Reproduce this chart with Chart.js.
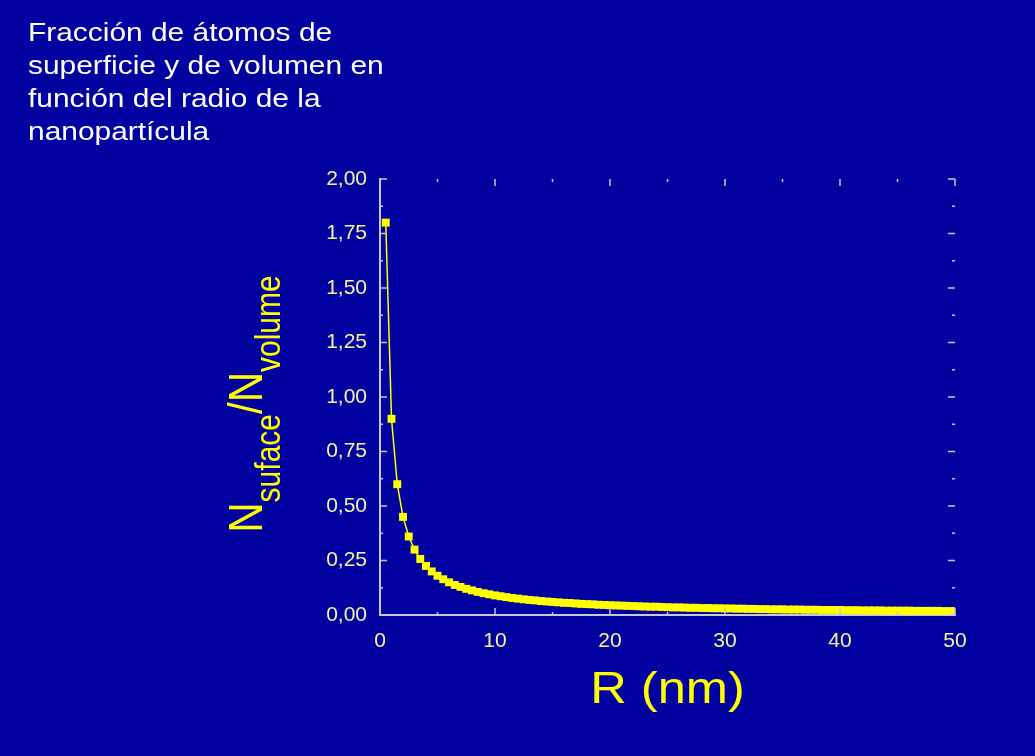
<!DOCTYPE html>
<html>
<head>
<meta charset="utf-8">
<script src="https://cdn.jsdelivr.net/npm/chart.js@4/dist/chart.umd.min.js"></script>
<style>
  body { margin: 0; background: #0202a0; }
  .slide { position: relative; width: 1035px; height: 756px; background: #0202a0; overflow: hidden; }
  .titulo {
    position: absolute; left: 28px; top: 16px;
    font-family: 'Liberation Sans', Arial, sans-serif; font-size: 26px; line-height: 33px;
    color: #ffffff; transform: scaleX(1.15); transform-origin: left top;
  }
  .chartBox { position: absolute; left: 0; top: 0; width: 1035px; height: 756px; }
</style>
</head>
<body>
<div class="slide">
  <div class="chartBox"><canvas id="myChart"></canvas></div>
  <div class="titulo">Fracción de átomos de<br>superficie y de volumen en<br>función del radio de la<br>nanopartícula</div>
</div>
<script>
// radio de la nanopartícula (nm)
const radios = [
  0.5, 1, 1.5, 2, 2.5, 3, 3.5, 4, 4.5, 5, 5.5, 6, 6.5, 7, 7.5, 8, 8.5, 9, 9.5, 10,
  10.5, 11, 11.5, 12, 12.5, 13, 13.5, 14, 14.5, 15, 15.5, 16, 16.5, 17, 17.5, 18, 18.5, 19, 19.5, 20,
  20.5, 21, 21.5, 22, 22.5, 23, 23.5, 24, 24.5, 25, 25.5, 26, 26.5, 27, 27.5, 28, 28.5, 29, 29.5, 30,
  30.5, 31, 31.5, 32, 32.5, 33, 33.5, 34, 34.5, 35, 35.5, 36, 36.5, 37, 37.5, 38, 38.5, 39, 39.5, 40,
  40.5, 41, 41.5, 42, 42.5, 43, 43.5, 44, 44.5, 45, 45.5, 46, 46.5, 47, 47.5, 48, 48.5, 49, 49.5, 50
];
// N superficie / N volumen
const fraccion = [
  1.8, 0.9, 0.6, 0.45, 0.36, 0.3, 0.257, 0.225, 0.2, 0.18, 0.164, 0.15, 0.138, 0.129, 0.12, 0.113, 0.106, 0.1, 0.095, 0.09,
  0.086, 0.082, 0.078, 0.075, 0.072, 0.069, 0.067, 0.064, 0.062, 0.06, 0.058, 0.056, 0.055, 0.053, 0.051, 0.05, 0.049, 0.047, 0.046, 0.045,
  0.044, 0.043, 0.042, 0.041, 0.04, 0.039, 0.038, 0.038, 0.037, 0.036, 0.035, 0.035, 0.034, 0.033, 0.033, 0.032, 0.032, 0.031, 0.031, 0.03,
  0.03, 0.029, 0.029, 0.028, 0.028, 0.027, 0.027, 0.026, 0.026, 0.026, 0.025, 0.025, 0.025, 0.024, 0.024, 0.024, 0.023, 0.023, 0.023, 0.023,
  0.022, 0.022, 0.022, 0.021, 0.021, 0.021, 0.021, 0.02, 0.02, 0.02, 0.02, 0.02, 0.019, 0.019, 0.019, 0.019, 0.019, 0.018, 0.018, 0.018
];
const xTicks = [0, 10, 20, 30, 40, 50];
const yTicks = ['0,00', '0,25', '0,50', '0,75', '1,00', '1,25', '1,50', '1,75', '2,00'];

const amarillo = '#ffff00';
const etiqueta = '#f2f2a8';
const marco = '#c8c8d0';
const fuente = "'Liberation Sans', Arial, sans-serif";

// ticks hacia dentro en los cuatro lados + títulos de ejes
const marcasYTitulos = {
  id: 'marcasYTitulos',
  afterDraw(chart) {
    const ctx = chart.ctx;
    const a = chart.chartArea;
    const x = chart.scales.x;
    const y = chart.scales.y;
    ctx.save();
    ctx.strokeStyle = marco;
    ctx.lineWidth = 1.5;
    ctx.beginPath();
    for (let v = 0; v <= 50; v += 5) {
      const px = x.getPixelForValue(v);
      const len = v % 10 === 0 ? 7 : 3;
      ctx.moveTo(px, a.bottom); ctx.lineTo(px, a.bottom - len);
      ctx.moveTo(px, a.top); ctx.lineTo(px, a.top + len);
    }
    for (let v = 0; v <= 2; v += 0.125) {
      const py = y.getPixelForValue(v);
      const len = Math.round(v * 8) % 2 === 0 ? 7 : 3;
      ctx.moveTo(a.left, py); ctx.lineTo(a.left + len, py);
      ctx.moveTo(a.right, py); ctx.lineTo(a.right - len, py);
    }
    ctx.stroke();

    // título eje x
    ctx.fillStyle = amarillo;
    ctx.textBaseline = 'alphabetic';
    ctx.font = '44px ' + fuente;
    ctx.save();
    ctx.translate((a.left + a.right) / 2, 703);
    ctx.scale(1.15, 1);
    ctx.textAlign = 'center';
    ctx.fillText('R (nm)', 0, 0);
    ctx.restore();

    // título eje y con subíndices
    const grande = '42px ' + fuente;
    const chico = '30px ' + fuente;
    const partes = [['N', grande, 0], ['suface', chico, 15.5], ['/N', grande, 0], ['volume', chico, 15.5]];
    ctx.textAlign = 'left';
    let total = 0;
    partes.forEach(p => { ctx.font = p[1]; total += ctx.measureText(p[0]).width; });
    const centroY = 404;
    ctx.save();
    ctx.translate(262, centroY + total / 2);
    ctx.rotate(-Math.PI / 2);
    ctx.scale(1, 1.15);
    let pos = 0;
    partes.forEach(p => {
      ctx.font = p[1];
      ctx.fillText(p[0], pos, p[2]);
      pos += ctx.measureText(p[0]).width;
    });
    ctx.restore();
    ctx.restore();
  }
};

const ctx = document.getElementById('myChart').getContext('2d');
new Chart(ctx, {
  type: 'scatter',
  data: {
    datasets: [{
      data: radios.map((r, i) => ({ x: r, y: fraccion[i] })),
      showLine: true,
      borderColor: amarillo,
      borderWidth: 1.5,
      backgroundColor: amarillo,
      pointStyle: 'rect',
      pointRadius: 5.6,
      pointBorderWidth: 0,
      pointHoverRadius: 5.6
    }]
  },
  options: {
    responsive: true,
    maintainAspectRatio: false,
    animation: false,
    layout: { padding: { top: 179, right: 80, left: 0, bottom: 0 } },
    plugins: { legend: { display: false }, tooltip: { enabled: false } },
    scales: {
      x: {
        type: 'linear',
        min: 0, max: 50,
        afterFit: s => { s.height = 141; },
        afterBuildTicks: s => { s.ticks = xTicks.map(v => ({ value: v })); },
        grid: { display: false, drawTicks: false },
        border: { display: true, color: marco, width: 2 },
        ticks: { color: etiqueta, padding: 14, font: { family: fuente, size: 21 } }
      },
      y: {
        type: 'linear',
        min: 0, max: 2,
        afterFit: s => { s.width = 380; },
        afterBuildTicks: s => { s.ticks = yTicks.map((t, i) => ({ value: i * 0.25 })); },
        grid: { display: false, drawTicks: false },
        border: { display: true, color: marco, width: 2 },
        ticks: {
          color: etiqueta, padding: 13, font: { family: fuente, size: 21 },
          callback: (v, i) => yTicks[i]
        }
      }
    }
  },
  plugins: [marcasYTitulos]
});
</script>
</body>
</html>
